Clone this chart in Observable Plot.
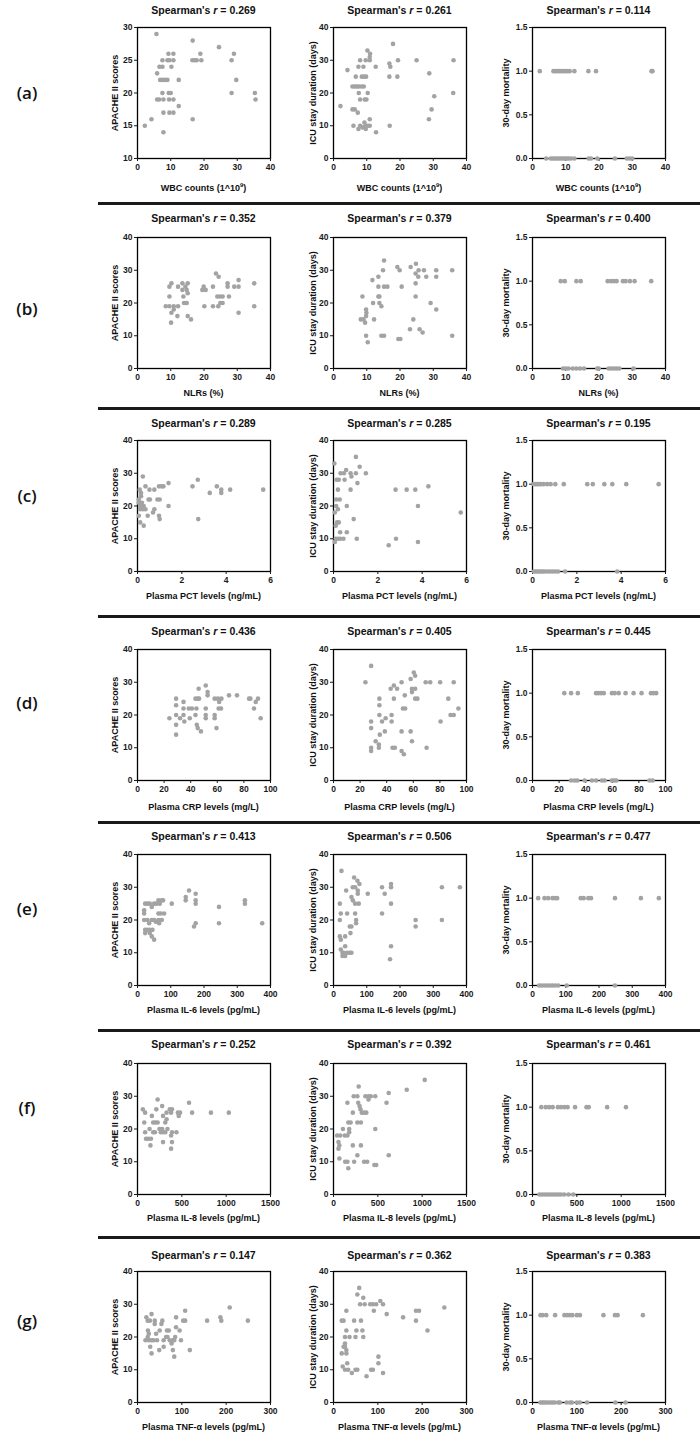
<!DOCTYPE html>
<html>
<head>
<meta charset="utf-8">
<script src="https://cdn.jsdelivr.net/npm/d3@7"></script>
<script src="https://cdn.jsdelivr.net/npm/@observablehq/plot@0.6"></script>
<style>
  body { margin: 0; background: #fff; }
  #chart { position: relative; width: 700px; height: 1438px; background: #fff; overflow: hidden; font-family: "Liberation Sans", Arial, sans-serif; color: #111; }
  .abs { position: absolute; white-space: nowrap; }
  .title { font-size: 10.5px; font-weight: bold; transform: translate(-50%, -50%); }
  .xlab { font-size: 9px; font-weight: bold; transform: translate(-50%, -50%); }
  .ylab { font-size: 9px; font-weight: bold; transform: translate(-50%, -50%) rotate(-90deg); }
  .letter { font-family: "Open Sans", "Noto Sans", sans-serif; font-size: 17px; font-weight: 600; transform: translate(-50%, -50%); }
  .sep { position: absolute; height: 2.5px; background: #1a1a1a; }
  sup { font-size: 6px; vertical-align: 4px; line-height: 0; }
</style>
</head>
<body>
<div id="chart"></div>
<script>
// ---------------- DATA ----------------
const rowLetters = ["(a)", "(b)", "(c)", "(d)", "(e)", "(f)", "(g)"];
const xLabels = ["WBC counts (1^10<sup>9</sup>)", "NLRs (%)", "Plasma PCT levels (ng/mL)", "Plasma CRP levels (mg/L)",
  "Plasma IL-6 levels (pg/mL)", "Plasma IL-8 levels (pg/mL)", "Plasma TNF-α levels (pg/mL)"];
const yLabels = ["APACHE II scores", "ICU stay duration (days)", "30-day mortality"];
const rApache = ["0.269", "0.352", "0.289", "0.436", "0.413", "0.252", "0.147"];
const rIcu    = ["0.261", "0.379", "0.285", "0.405", "0.506", "0.392", "0.362"];
const rMort   = ["0.114", "0.400", "0.195", "0.445", "0.477", "0.461", "0.383"];

const xDomains = [[0, 40], [0, 40], [0, 6], [0, 100], [0, 400], [0, 1500], [0, 300]];
const xTickVals = [[0, 10, 20, 30, 40], [0, 10, 20, 30, 40], [0, 2, 4, 6], [0, 20, 40, 60, 80, 100],
  [0, 100, 200, 300, 400], [0, 500, 1000, 1500], [0, 100, 200, 300]];
const apacheDomainA = [10, 30], apacheTicksA = [10, 15, 20, 25, 30];
const apacheDomain = [0, 40], apacheTicks = [0, 10, 20, 30, 40];
const icuDomain = [0, 40], icuTicks = [0, 10, 20, 30, 40];
const mortDomain = [0, 1.5], mortTicks = [0, 0.5, 1.0, 1.5];

// (a) WBC
const wbc_apache = [[5.7,29],[16.6,28],[24.5,27],[9.3,26],[10.8,26],[18.9,26],[29,26],
  [7.5,25],[9.0,25],[9.6,25],[10.8,25],[16.5,25],[17.2,25],[17.8,25],[19.2,25],[28.3,25],
  [6.6,24],[7.5,24],[10.2,24],[5.9,23],[6.8,22],[7.5,22],[8.2,22],[9.0,22],[12.4,22],[29.7,22],
  [7.5,20],[9.4,20],[10,20],[28.3,20],[35.3,20],[5.9,19],[6.5,19],[7.8,19],[9.5,19],[10.8,19],[35.5,19],
  [12.4,18],[7.8,17],[9.6,17],[10.8,17],[16.6,16],[4.2,16],[2.2,15],[7.8,14]];
const wbc_icu = [[2.1,16],[4.2,27],[5.7,22],[6.4,22],[7.0,22],[7.6,22],[8.4,22],[9.1,22],
  [6.7,25],[8.5,25],[9.2,25],[9.8,25],[7.5,28],[9.0,28],[12.7,28],[8.0,30],[9.7,30],[10.9,30],
  [10.2,33],[11.0,32],[10.9,31],[7.6,20],[10.3,20],[8.0,18],[9.4,18],[9.9,18],
  [5.7,15],[6.4,15],[7.3,14],[6.0,10],[8.0,10],[9.6,10],[10.3,10],[10.9,10],
  [7.5,9],[9.7,9],[9.3,11],[10.9,12],[12.8,8],[8.7,9.5],
  [16.8,29],[17.1,28],[16.8,25],[17.9,35],[19.4,30],[19.2,25],[16.9,10],
  [25,30],[28.8,26],[28.7,12],[29.5,15],[30.3,19],[36.1,30],[36,20]];
const wbc_dead = [2.2,6.3,6.9,7.5,8.1,8.7,9.3,9.9,10.6,11.2,12.6,16.8,19.1,35.8,36.1];
const wbc_alive = [4.1,5.5,6.1,6.7,7.3,7.9,8.5,9.1,9.7,10.3,10.9,11.6,12.6,16.9,17.6,19.5,24.8,28.4,29.2,30];

// (b) NLR
const nlr_apache = [[8.5,19],[9.6,19],[10.9,19],[9.6,22],[9.6,25],[10.2,26],[10.2,17],[10.1,14],[10.9,18],
  [12.2,25],[12.2,19],[12,16],[13.5,26],[13.8,22],[13.5,24],[14,20],[14.8,20],[14.4,25],[15.1,26],[15.1,23],[15.1,16],[16.1,15],[14.8,24],
  [19.9,25],[20.5,24],[19.5,24],[20.1,19],[22.7,19],[22.7,25],[23.6,29],[24.4,28],[24,22],[24.8,22],[25.6,22],[24.3,19],[24.9,20],[25.6,20],
  [27.1,26],[27.1,25],[27.5,22],[29.1,25],[30.4,27],[30.4,25],[30.4,17],[35.1,26],[35.1,19]];
const nlr_icu = [[8.7,22],[8.2,15],[9.0,15],[9.8,18],[9.5,14],[9.8,16],[9.9,17],[9.8,10],[10.3,8],
  [11.7,27],[11.9,20],[12.2,15],[13.5,28],[13.5,25],[13.5,22],[13.8,22],[13.8,20],[14.4,19],[14.4,10],[15.2,10],[14.9,30],[15.2,33],[15.2,25],[16.2,25],
  [19.2,31],[19.9,30],[19.5,9],[20.1,9],[20.5,25],[23.2,31],[23,12],[24,15],[24.8,32],[24.7,29],[25.6,30],[24.7,26],[24.7,22],[25.5,28],
  [25.9,12],[26.8,11],[27.2,30],[27.9,28],[29.2,20],[30.9,30],[30.9,28],[30.9,18],[35.7,30],[35.7,10]];
const nlr_dead = [8.5,9.7,13.2,14.5,22.6,23.6,24.5,25.3,27.2,28,29.3,30.7,35.7];
const nlr_alive = [9.2,10,10.8,12.1,13.2,14.3,15.5,19.5,19.9,22.9,23.7,24.5,25.3,26.1,30.4];

// (c) PCT
const pct_apache = [[0.1,25],[0.16,24],[0.06,22],[0.16,23],[0.12,20],[0.2,20],[0.28,20],[0.12,19],[0.24,19],[0.36,19],
  [0.06,17],[0.12,15],[0.28,14],[0.24,29],[0.36,26],[0.06,21],[0.2,21],
  [0.5,22],[0.56,22],[0.54,25],[0.76,25],[0.76,19],[0.7,18],[0.46,17],[0.9,22],[1.0,22],[0.97,26],[1.09,26],[1.17,26],[0.97,17],[1.0,16],
  [1.4,27],[1.4,20],[2.48,26],[2.72,28],[2.74,16],[3.26,24],[3.58,26],[3.78,25],[3.78,24],[4.18,25],[5.67,25]];
const pct_icu = [[0.04,33],[0.14,28],[0.24,28],[0.2,25],[0.12,22],[0.28,22],[0.12,20],[0.2,19],[0.06,18],[0.16,15],[0.24,15],[0.1,14],
  [0.3,12],[0.1,10],[0.2,10],[0.3,10],[0.45,10],[0.06,9],[0.32,30],[0.47,30],[0.57,31],[0.5,28],[0.6,20],[0.6,12],[0.77,30],[0.81,29],
  [0.77,25],[0.91,16],[1.01,35],[1.01,30],[1.08,27],[1.05,10],[1.18,32],[1.46,30],
  [2.49,8],[2.8,25],[2.82,10],[3.3,25],[3.69,25],[3.81,20],[3.81,9],[4.28,26],[5.74,18]];
const pct_dead = [0.06,0.14,0.22,0.3,0.38,0.5,0.66,0.82,1.03,1.41,2.47,2.72,3.24,3.6,4.23,5.69];
const pct_alive = [0.06,0.14,0.22,0.3,0.38,0.46,0.54,0.66,0.78,0.9,1.02,1.15,1.47,3.82];

// (d) CRP
const crp_apache = [[24,19],[29,25],[29,23],[29,20],[29,17],[29,14],[32,19],[34.6,20],[34.6,24],[34.6,22],[35.2,18],[38.6,22],[40.9,22],
  [39.3,19],[43.6,20],[43.6,25],[45.3,25],[46.3,25],[44.3,22],[44.6,17],[46,28],[45.3,16],[47.7,15],
  [51.3,29],[51.3,20],[51.3,19],[51.3,22],[52.7,26],[52.7,27],[58,25],[60.4,25],[58,20],[58,19],[59.4,16],[61.4,24],[61,22],[62.8,22],[63.1,25],
  [68.8,26],[74.8,26],[83.9,25],[84.9,25],[87.6,22],[88.9,24],[90.6,25],[92.6,19]];
const crp_icu = [[24,30],[28.3,35],[28.3,18],[28.3,16],[28.3,10],[28.3,9],[31.7,12],[34.1,11],[34.1,10],[34.5,25],[34.5,23],[34.5,20],[34.8,14],
  [36.5,18],[38.6,15],[39.2,19],[43,28],[45.4,29],[43.7,20],[43.7,18],[44.4,10],[46.1,10],[45.4,25],[47.8,28],[51.2,30],[51.2,15],[51.2,9],
  [52.9,8],[53.6,26],[52.2,22],[53.9,22],[58,31],[59,28],[59,27],[58,15],[59,12],[60.4,33],[61.4,32],[61.4,28],[61.4,25],[63.1,25],
  [69.3,30],[72.7,30],[70,10],[80.2,30],[80.5,18],[86.3,25],[88,20],[90.4,20],[90.4,30],[93.9,22]];
const crp_dead = [23.9,29,34.1,47.8,49.5,51.5,53.6,59.7,61.8,64.8,70,76,82,89,91,93];
const crp_alive = [29,31.7,33.8,39.2,44.7,47.8,52.2,54.3,59.7,61.4,63.1,88,90.4];

// (e) IL-6
const il6_apache = [[23,25],[30,25],[37,25],[43,24],[50,25],[57,25],[63,26],[67,25],[73,26],[77,26],[103,25],
  [145,27],[145,26],[155,29],[175,28],[175,26],[175,25],[245,24],[323,26],[323,25],
  [20,23],[20,22],[63,22],[70,22],[80,22],[20,20],[30,20],[35,19],[43,20],[50,20],[55,19.5],[63,20],[73,20],[65,19],
  [175,19],[170,18],[245,19],[375,19],[23,17],[23,16],[30,17],[37,17],[45,17],[37,16],[43,15],[50,14]];
const il6_icu = [[24,35],[19,25],[19,20],[22,22],[19,15],[22,14],[22,11],[27,10],[31,10],[41,10],[27,9],[35,9],[35,15],[35,12],[38,29],
  [41,22],[49,10],[54,10],[49,18],[54,18],[51,16],[54,27],[58,26],[58,30],[65,30],[65,25],[65,22],[68,20],[68,19],[62,33],[72,32],
  [73,29],[73,28],[76,25],[78,31],[103,28],[146,30],[146,22],[154,28],[173,31],[173,30],[173,25],[173,12],[170,8],
  [247,20],[247,18],[326,30],[326,20],[380,30]];
const il6_dead = [17,36,47,60,68,74,145,154,168,176,248,326,380];
const il6_alive = [20,28,36,44,52,60,68,77,103,248];

// (f) IL-8
const il8_apache = [[60,26],[86,25],[76,22],[86,19],[96,17],[121,17],[152,17],[136,20],[162,24],[146,15],[177,22],[202,22],[227,22],
  [177,19],[197,19],[212,26],[227,29],[278,27],[263,19],[288,19],[313,19],[248,20],[278,20],[288,24],[288,16],[313,22],[328,23],
  [328,25],[338,20],[364,26],[389,26],[379,25],[379,18],[389,19],[389,16],[379,14],[439,19],[455,25],[465,24],[480,25],
  [581,28],[616,25],[828,25],[1030,25]];
const il8_icu = [[41,18],[76,18],[56,16],[56,14],[66,15],[66,11],[106,20],[127,18],[157,18],[132,10],[157,10],[167,8],[157,28],
  [167,22],[193,22],[177,20],[177,19],[218,25],[228,30],[218,15],[233,10],[269,30],[269,12],[279,28],[294,27],[269,22],[309,22],
  [284,33],[304,26],[309,15],[319,25],[345,25],[345,10],[380,10],[360,30],[395,30],[421,30],[395,29],[370,25],[461,9],[482,9],
  [471,30],[471,20],[598,28],[623,31],[623,12],[826,32],[1029,35]];
const il8_dead = [99,149,188,228,287,322,361,396,480,609,634,842,1054];
const il8_alive = [79,109,139,169,199,229,259,289,319,356,406,460];

// (g) TNF-alpha
const tnf_apache = [[20,26],[23,25],[18,19],[23.5,22],[25.6,21],[25.6,19],[28.7,17],[31.7,27],[31.7,19],[35.8,19],[31.7,15],[38.9,25],
  [38.9,24],[42,21],[44,19],[49,16],[50,22],[54,24],[56,25],[59,17],[59,19],[64.5,20],[67.6,20],[66.5,22],[70.6,22],[72.7,19],
  [79.8,19],[76.8,18],[79.8,16],[82.9,14],[82.9,19],[85,20],[87,23],[87,26],[95,22],[98,19],[103,25],[107.5,25],[107.5,28],
  [118,16],[157,25],[187,26],[189,25],[208,29],[249,25],[23,20],[28,25]];
const tnf_icu = [[18.6,25],[22.8,25],[18.6,15],[20.7,11],[22.8,17],[25.9,17],[25.9,20],[25.9,18],[25.9,10],[29,28],[29,22],[29,16],
  [29,15],[31,12],[33.1,10],[36.2,20],[41.4,9],[46.5,25],[49.6,10],[53.8,10],[49.6,20],[51.7,22],[53.8,33],[58,35],[60,30],[62,25],
  [67.2,32],[65.1,22],[67.2,20],[70.3,30],[74.5,8],[82.7,30],[88.9,30],[96.2,30],[84.8,10],[88.9,10],[91,28],[101.3,12],[101.3,14],
  [105.5,31],[111.7,30],[111.7,9],[120,27],[157,26],[186,28],[193,28],[186,25],[212,22],[250,29]];
const tnf_dead = [18,23,31,51,72,78,84,90,100,107,160,186,192,249];
const tnf_alive = [18,22,26,30,35,40,45,50,58,62,77,85,89,100,107,123,187,210];

const apacheSets = [wbc_apache, nlr_apache, pct_apache, crp_apache, il6_apache, il8_apache, tnf_apache];
const icuSets = [wbc_icu, nlr_icu, pct_icu, crp_icu, il6_icu, il8_icu, tnf_icu];
const deadSets = [wbc_dead, nlr_dead, pct_dead, crp_dead, il6_dead, il8_dead, tnf_dead];
const aliveSets = [wbc_alive, nlr_alive, pct_alive, crp_alive, il6_alive, il8_alive, tnf_alive];

// ---------------- LAYOUT ----------------
const rowTops = [27, 237, 440, 649, 854, 1063, 1271];
const colLefts = [137, 333, 532];
const frameW = 133, frameH = 131;
const titleOff = [17, 19, 17, 18, 18, 19, 16];
const xLabOff = [30, 25, 25, 27, 25, 24, 25];
const yLabOff = [22, 20, 26];
const letterY = [92, 308, 495, 702, 908, 1107, 1320];
const sepY = [203, 408, 616, 822, 1030, 1237];

const chart = document.getElementById("chart");
function addText(cls, html, x, y) {
  const d = document.createElement("div");
  d.className = "abs " + cls;
  d.innerHTML = html;
  d.style.left = x + "px";
  d.style.top = y + "px";
  chart.appendChild(d);
}

function panel(data, xDomain, xTicks, yDomain, yTicks, yFmt, left, top) {
  const mL = 26, mR = 6, mT = 6, mB = 18;
  const svg = Plot.plot({
    width: frameW + mL + mR, height: frameH + mT + mB,
    marginLeft: mL, marginRight: mR, marginTop: mT, marginBottom: mB,
    style: {fontFamily: "'Liberation Sans', Arial, sans-serif", fontSize: "8.5px", fontWeight: "bold",
      color: "#1a1a1a", background: "transparent", overflow: "visible"},
    x: {domain: xDomain, label: null},
    y: {domain: yDomain, label: null},
    marks: [
      Plot.frame({stroke: "#000", strokeWidth: 1.3}),
      Plot.axisX({ticks: xTicks, tickSize: 3, tickPadding: 2, label: null, tickFormat: d3.format("d")}),
      Plot.axisY({ticks: yTicks, tickSize: 3, tickPadding: 2, label: null, tickFormat: yFmt}),
      Plot.dot(data, {x: d => d[0], y: d => d[1], r: 2.3, fill: "#a3a3a3", stroke: "none"})
    ]
  });
  svg.style.position = "absolute";
  svg.style.left = (left - mL) + "px";
  svg.style.top = (top - mT) + "px";
  chart.appendChild(svg);
}

sepY.forEach(y => {
  const s = document.createElement("div");
  s.className = "sep";
  s.style.left = "98px"; s.style.width = "602px"; s.style.top = (y - 1) + "px";
  chart.appendChild(s);
});

for (let i = 0; i < 7; i++) {
  const top = rowTops[i];
  const bottom = top + frameH;
  addText("letter", rowLetters[i], 27, letterY[i]);
  const apDomain = i === 0 ? apacheDomainA : apacheDomain;
  const apTicks = i === 0 ? apacheTicksA : apacheTicks;
  const mort = deadSets[i].map(x => [x, 1]).concat(aliveSets[i].map(x => [x, 0]));
  const specs = [
    {data: apacheSets[i], yd: apDomain, yt: apTicks, fmt: d3.format("d"), r: rApache[i]},
    {data: icuSets[i], yd: icuDomain, yt: icuTicks, fmt: d3.format("d"), r: rIcu[i]},
    {data: mort, yd: mortDomain, yt: mortTicks, fmt: d3.format(".1f"), r: rMort[i]}
  ];
  specs.forEach((s, j) => {
    const left = colLefts[j];
    const cx = left + frameW / 2;
    panel(s.data, xDomains[i], xTickVals[i], s.yd, s.yt, s.fmt, left, top);
    addText("title", "Spearman's <i>r</i> = " + s.r, cx, top - titleOff[i]);
    addText("xlab", xLabels[i], cx, bottom + xLabOff[i]);
    addText("ylab", yLabels[j], left - yLabOff[j], top + frameH / 2);
  });
}
</script>
</body>
</html>
